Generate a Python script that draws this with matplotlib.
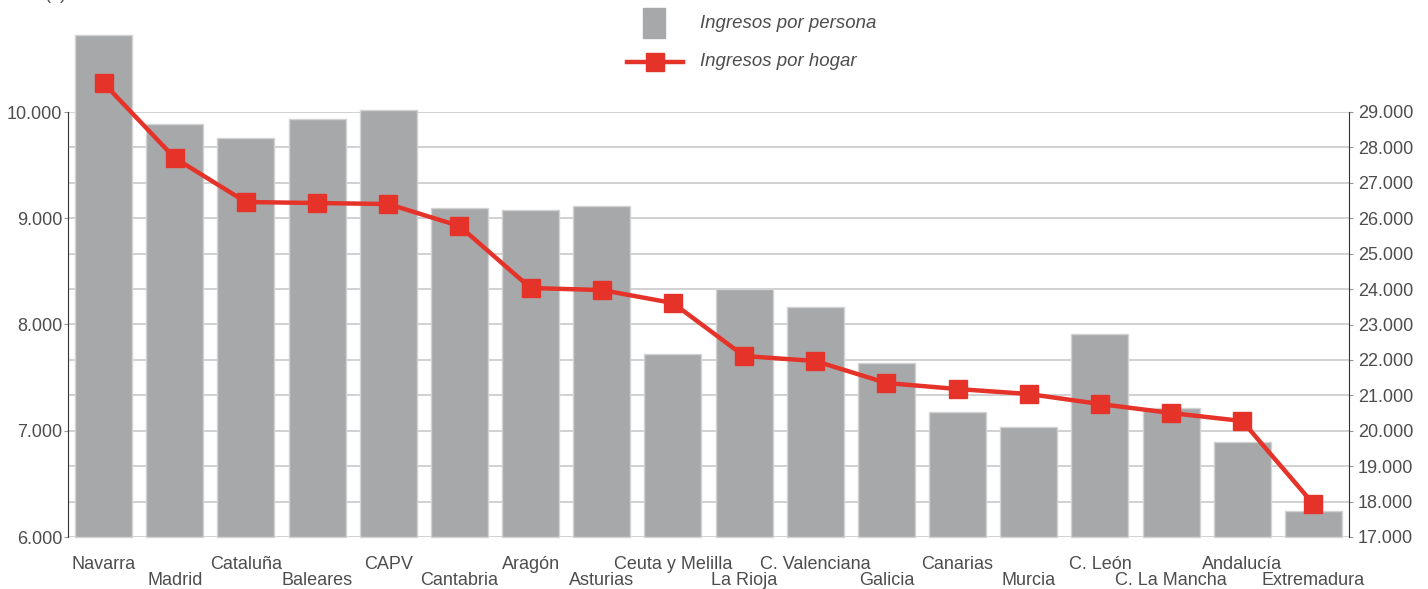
import matplotlib
matplotlib.use('Agg')
import matplotlib.pyplot as plt
import numpy as np
from matplotlib.patches import Rectangle
from matplotlib.lines import Line2D
from matplotlib.ticker import FuncFormatter

plt.rcParams['font.family'] = ['Liberation Sans', 'DejaVu Sans']

regiones = ['Navarra', 'Madrid', 'Cataluña', 'Baleares', 'CAPV', 'Cantabria',
            'Aragón', 'Asturias', 'Ceuta y Melilla', 'La Rioja', 'C. Valenciana',
            'Galicia', 'Canarias', 'Murcia', 'C. León', 'C. La Mancha',
            'Andalucía', 'Extremadura']
ingresos_persona = [10725, 9887, 9755, 9934, 10019, 9096, 9078, 9115, 7722,
                    8334, 8165, 7638, 7176, 7035, 7911, 7214, 6894, 6245]
ingresos_hogar = [29818, 27700, 26458, 26430, 26401, 25780, 24030, 23973, 23606,
                  22110, 21969, 21348, 21178, 21037, 20755, 20501, 20275, 17932]

GRIS = '#a7a8aa'
ROJO = '#e5332a'
TXT = '#4d4d4d'
BASE = 6000

W, H = 1428, 589
fig = plt.figure(figsize=(W / 100, H / 100), dpi=100)
ax1 = fig.add_axes([68 / W, 1 - 537 / H, (1349 - 68) / W, (537 - 112) / H])
ax2 = ax1.twinx()

x = np.arange(len(regiones))
alturas = [v - BASE for v in ingresos_persona]
ax1.bar(x, alturas, bottom=BASE, width=0.8, color=GRIS, edgecolor='#d2d2d2',
        linewidth=1, clip_on=False, zorder=2)
ax1.set_xlim(-0.5, len(regiones) - 0.5)
ax1.set_ylim(6000, 10000)
ax1.set_yticks(np.arange(6000, 10001, 1000))
ax1.set_yticks(np.arange(6000, 10001, 1000 / 3), minor=True)
ax1.set_axisbelow(True)
ax1.grid(True, axis='y', which='both', color='#c9c9c9', lw=1.2)
ax1.tick_params(axis='y', which='minor', length=0)

ax2.plot(x, ingresos_hogar, color=ROJO, lw=3.2, marker='s', markersize=13,
         clip_on=False, zorder=5)
ax2.set_ylim(17000, 29000)
ax2.set_yticks(np.arange(17000, 29001, 1000))

fmt = FuncFormatter(lambda v, p: f'{int(v):,}'.replace(',', '.'))
ax1.yaxis.set_major_formatter(fmt)
ax2.yaxis.set_major_formatter(fmt)

for a in (ax1, ax2):
    for s in ('top', 'bottom'):
        a.spines[s].set_visible(False)
    a.spines['left'].set_color('#333333')
    a.spines['right'].set_color('#333333')
ax1.spines['right'].set_visible(False)
ax2.spines['left'].set_visible(False)

ax1.tick_params(axis='y', which='major', labelsize=13, labelcolor=TXT,
                color='#999999', length=3, pad=1)
ax2.tick_params(axis='y', labelsize=13, labelcolor=TXT, color='#999999',
                length=3, pad=3.5)

ax1.set_xticks(x)
ax1.set_xticklabels(regiones, fontsize=13, color=TXT)
ax1.tick_params(axis='x', length=0)
for i, t in enumerate(ax1.xaxis.get_major_ticks()):
    t.set_pad(14 if i % 2 == 0 else 25.5)

# leyenda
fig.add_artist(Rectangle((643 / W, 1 - 38 / H), 22 / W, 30 / H,
                         transform=fig.transFigure, color=GRIS))
fig.add_artist(Line2D([627 / W, 683 / W], [1 - 62 / H] * 2,
                      transform=fig.transFigure, color=ROJO, lw=3.2))
fig.add_artist(Line2D([655 / W], [1 - 62 / H], transform=fig.transFigure,
                      color=ROJO, marker='s', markersize=13))
fig.text(700 / W, 1 - 24 / H, 'Ingresos por persona', style='italic',
         fontsize=13.4, color=TXT, va='center')
fig.text(700 / W, 1 - 62 / H, 'Ingresos por hogar', style='italic',
         fontsize=13.4, color=TXT, va='center')
fig.text(45 / W, 1 + 1 / H, '(€)', fontsize=13, color=TXT, va='baseline')

fig.savefig('out.png', dpi=100)
